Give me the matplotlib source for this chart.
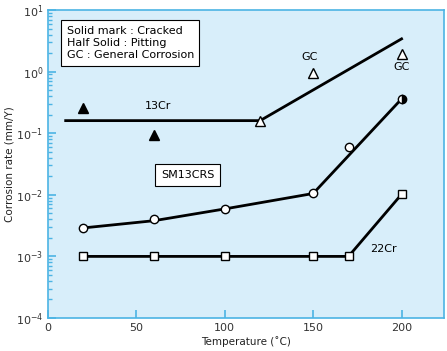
import matplotlib.pyplot as plt

# 13Cr
cr13_line_x = [10, 120, 200]
cr13_line_y = [0.16, 0.16, 3.4]
cr13_solid_x = [20, 60]
cr13_solid_y = [0.26, 0.095]
cr13_open_x = [120, 150, 200]
cr13_open_y = [0.16, 0.95, 1.95]

# SM13CRS
sm_line_x = [20, 60, 100, 150, 200]
sm_line_y = [0.0029, 0.0038, 0.0059, 0.0105, 0.36]
sm_open_x = [20, 60, 100, 150, 170]
sm_open_y = [0.0029, 0.0040, 0.0059, 0.0105, 0.059]
sm_half_x = [200]
sm_half_y = [0.36]

# 22Cr
cr22_x = [20, 60, 100, 150, 170, 200]
cr22_y = [0.001, 0.001, 0.001, 0.001, 0.001, 0.0102]

BG = "#d8eefa"
EDGE = "#4cb4e4"

fig = plt.figure(figsize=(4.47, 3.51), dpi=100)
ax = fig.add_axes([48 / 447, 33 / 351, 396 / 447, 308 / 351])
ax.set_facecolor(BG)
ax.set_yscale("log")
ax.set_xlim(0, 224)
ax.set_ylim(1e-4, 10)

ax.plot(cr13_line_x, cr13_line_y, color="black", lw=2, zorder=2)
ax.plot(sm_line_x, sm_line_y, color="black", lw=2, zorder=2)
ax.plot(cr22_x, cr22_y, color="black", lw=2, zorder=2,
        marker="s", ms=5.5, mfc="white", mec="black", mew=1)

ax.plot(cr13_solid_x, cr13_solid_y, ls="none", marker="^", ms=6.5,
        mfc="black", mec="black", zorder=3)
ax.plot(cr13_open_x, cr13_open_y, ls="none", marker="^", ms=6.5,
        mfc="white", mec="black", mew=1, zorder=3)
ax.plot(sm_open_x, sm_open_y, ls="none", marker="o", ms=6,
        mfc="white", mec="black", mew=1, zorder=3)
ax.plot(sm_half_x, sm_half_y, ls="none", marker="o", ms=6,
        fillstyle="right", mfc="black", markerfacecoloralt="white",
        mec="black", mew=1, zorder=3)

ax.text(62, 0.28, "13Cr", fontsize=8, ha="center", va="center")
ax.text(79, 0.021, "SM13CRS", fontsize=8, ha="center", va="center",
        bbox=dict(boxstyle="square,pad=0.55", fc="white", ec="black", lw=0.8))
ax.text(190, 0.0013, "22Cr", fontsize=8, ha="center", va="center")
ax.text(148, 1.75, "GC", fontsize=8, ha="center", va="center")
ax.text(200, 1.2, "GC", fontsize=8, ha="center", va="center")
ax.text(10.5, 5.6, "Solid mark : Cracked\nHalf Solid : Pitting\nGC : General Corrosion",
        fontsize=8, ha="left", va="top", linespacing=1.3,
        bbox=dict(boxstyle="square,pad=0.5", fc="white", ec="black", lw=0.8))

ax.set_xticks([0, 50, 100, 150, 200])
ax.tick_params(axis="both", which="both", direction="in", colors=EDGE,
               labelcolor="#333333", labelsize=8)
ax.tick_params(axis="both", which="major", length=6, width=1.2)
ax.tick_params(axis="y", which="minor", length=3, width=1)
for s in ax.spines.values():
    s.set_color(EDGE)
    s.set_linewidth(1.2)

ax.set_xlabel("Temperature (˚C)", fontsize=7.5, color="#222222", labelpad=2)
ax.set_ylabel("Corrosion rate (mm/Y)", fontsize=7.5, color="#222222", labelpad=1)

fig.savefig("out.png", dpi=100)
